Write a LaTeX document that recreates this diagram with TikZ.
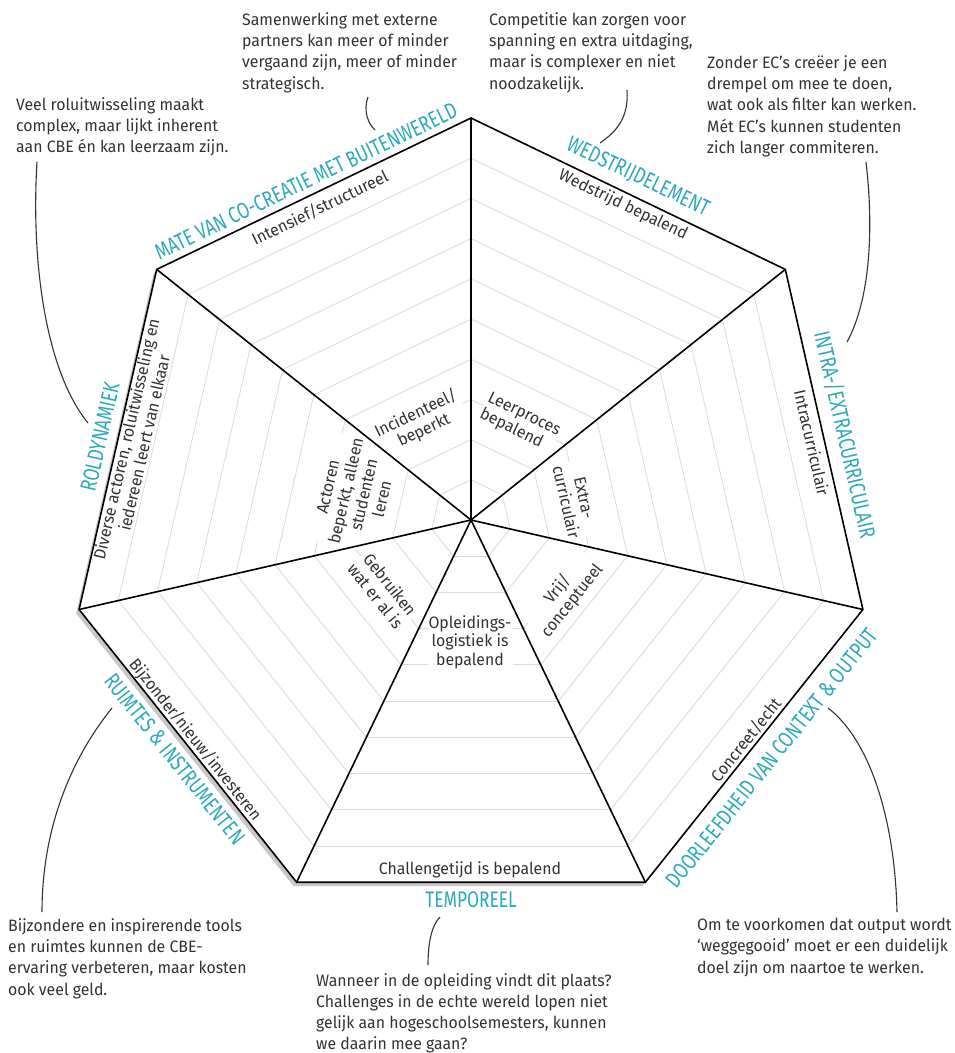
\documentclass[tikz,border=0pt]{standalone}
\usepackage{fontspec}
\setmainfont{Fira Sans}
\newfontfamily\labfont[FakeStretch=0.77]{Fira Sans}
\newfontfamily\bodyfont[FakeStretch=0.96]{Fira Sans}
\newfontfamily\polefont[FakeStretch=0.96]{Fira Sans}
\usetikzlibrary{calc}
\definecolor{tealc}{RGB}{43,170,185}
\definecolor{txt}{RGB}{50,50,50}
\definecolor{gridc}{RGB}{218,218,218}
\definecolor{shadowc}{RGB}{200,200,200}
\begin{document}
\begin{tikzpicture}[x=1pt,y=-1pt,
  cat/.style={text=tealc, font=\labfont\fontsize{22.5}{22.5}\selectfont, inner sep=0pt},
  lab/.style={text=txt, font=\polefont\fontsize{16.5}{18.5}\selectfont, inner sep=1pt, align=center},
  ctr/.style={lab, fill=white},
  note/.style={text=txt, font=\bodyfont\fontsize{16.5}{21.4}\selectfont, inner sep=0pt, align=left, anchor=north west},
  conn/.style={draw=txt, line width=1.1pt},
  rim/.style={line width=1.6pt, line join=miter},
  gridl/.style={draw=gridc, line width=0.8pt}]
\useasboundingbox (0,0) rectangle (954,1053);
\coordinate (C) at (471,520);
\coordinate (V0) at (471,118);
\coordinate (V1) at (785.3,269.4);
\coordinate (V2) at (862.9,609.5);
\coordinate (V3) at (645.4,882.2);
\coordinate (V4) at (296.6,882.2);
\coordinate (V5) at (79.1,609.5);
\coordinate (V6) at (156.7,269.4);
% shadow
\fill[shadowc] ([shift={(-3,4)}]V0) -- ([shift={(-3,4)}]V1) -- ([shift={(-3,4)}]V2) -- ([shift={(-3,4)}]V3) -- ([shift={(-3,4)}]V4) -- ([shift={(-3,4)}]V5) -- ([shift={(-3,4)}]V6) -- cycle;
\fill[white] (V0) -- (V1) -- (V2) -- (V3) -- (V4) -- (V5) -- (V6) -- cycle;
% grid
\foreach \a/\b in {0/1,1/2,2/3,3/4,4/5,5/6,6/0}{
  \foreach \j in {1,...,9}{
    \draw[gridl] ($(C)!\j/10!(V\a)$) -- ($(C)!\j/10!(V\b)$);
  }
}

% inner pole labels (white backing hides grid lines)
\node[ctr, rotate=25.7] (inA) at (420,422) {Incidenteel/\\beperkt};
\node[ctr, rotate=-25.7, align=left] (inB) at (520,423) {Leerproces\\bepalend};
\node[ctr, rotate=-77.14] (inC) at (575,500) {Extra-\\curriculair};
\node[ctr, rotate=51.43] (inD) at (565,595) {Vrij/\\conceptueel};
\node[ctr] (inE) at (470,642) {Opleidings-\\logistiek is\\bepalend};
\node[ctr, rotate=-51.43] (inF) at (383,590) {Gebruiken\\wat er al is};
\node[ctr, rotate=77.14] (inG) at (355,493) {Actoren\\beperkt, alleen\\studenten\\leren};

% spokes and rim
\foreach \k in {0,...,6}{\draw[rim] (C) -- (V\k);}
\draw[rim] (V0) -- (V1) -- (V2) -- (V3) -- (V4) -- (V5) -- (V6) -- cycle;

% category labels
\node[cat, rotate=25.7] (catA) at (306,181) {MATE VAN CO-CREATIE MET BUITENWERELD};
\node[cat, rotate=-25.7] (catB) at (638,177) {WEDSTRIJDELEMENT};
\node[cat, rotate=-77.14] (catC) at (845,435) {INTRA-/EXTRACURRICULAIR};
\node[cat, rotate=51.43] (catD) at (772,758) {DOORLEEFDHEID VAN CONTEXT \& OUTPUT};
\node[cat] (catE) at (471,900) {TEMPOREEL};
\node[cat, rotate=-51.43] (catF) at (175,759) {RUIMTES \& INSTRUMENTEN};
\node[cat, rotate=77.14] (catG) at (100,437) {ROLDYNAMIEK};

% outer pole labels
\node[lab, rotate=25.7] (outA) at (320,208) {Intensief/structureel};
\node[lab, rotate=-25.7] (outB) at (623,205) {Wedstrijd bepalend};
\node[lab, rotate=-77.14] (outC) at (812,443) {Intracurriculair};
\node[lab, rotate=51.43] (outD) at (746,740) {Concreet/echt};
\node[lab] (outE) at (470,870) {Challengetijd is bepalend};
\node[lab, rotate=-51.43] (outF) at (195,740) {Bijzonder/nieuw/investeren};
\node[lab, rotate=77.14] (outG) at (135,441) {Diverse actoren, roluitwisseling en\\iedereen leert van elkaar};

% notes
\node[note] (nG) at (16,97) {Veel roluitwisseling maakt\\complex, maar lijkt inherent\\aan CBE én kan leerzaam zijn.};
\node[note] (nA) at (242,12) {Samenwerking met externe\\partners kan meer of minder\\vergaand zijn, meer of minder\\strategisch.};
\node[note] (nB) at (489,12) {Competitie kan zorgen voor\\spanning en extra uitdaging,\\maar is complexer en niet\\noodzakelijk.};
\node[note] (nC) at (707,55) {Zonder EC’s creëer je een\\drempel om mee te doen,\\wat ook als filter kan werken.\\Mét EC’s kunnen studenten\\zich langer commiteren.};
\node[note] (nF) at (8,918) {Bijzondere en inspirerende tools\\en ruimtes kunnen de CBE-\\ervaring verbeteren, maar kosten\\ook veel geld.};
\node[note, font=\bodyfont\fontsize{16.5}{21}\selectfont] (nE) at (316,973) {Wanneer in de opleiding vindt dit plaats?\\Challenges in de echte wereld lopen niet\\gelijk aan hogeschoolsemesters, kunnen\\we daarin mee gaan?};
\node[note] (nD) at (697,918) {Om te voorkomen dat output wordt\\‘weggegooid’ moet er een duidelijk\\doel zijn om naartoe te werken.};

% connectors
\coordinate (gS) at (37,162);
\coordinate (gE) at (88,423);
\draw[conn] (gS) .. controls (31,260) and (45,370) .. (gE);
\coordinate (aS) at (368,97);
\coordinate (aE) at (375,130);
\draw[conn] (aS) .. controls (363,110) and (368,124) .. (aE);
\coordinate (bS) at (627,90);
\coordinate (bE) at (600,143);
\draw[conn] (bS) .. controls (629,118) and (616,132) .. (bE);
\coordinate (cS) at (866,162);
\coordinate (cE) at (847,342);
\draw[conn] (cS) .. controls (874,230) and (870,300) .. (cE);
\coordinate (fS) at (112,708);
\coordinate (fE) at (42,912);
\draw[conn] (fS) .. controls (70,760) and (42,830) .. (fE);
\coordinate (eS) at (440,917);
\coordinate (eE) at (428,965);
\draw[conn] (eS) .. controls (431,926) and (428,945) .. (eE);
\coordinate (dS) at (828,708);
\coordinate (dE) at (897,912);
\draw[conn] (dS) .. controls (870,740) and (895,820) .. (dE);
\end{tikzpicture}
\end{document}
